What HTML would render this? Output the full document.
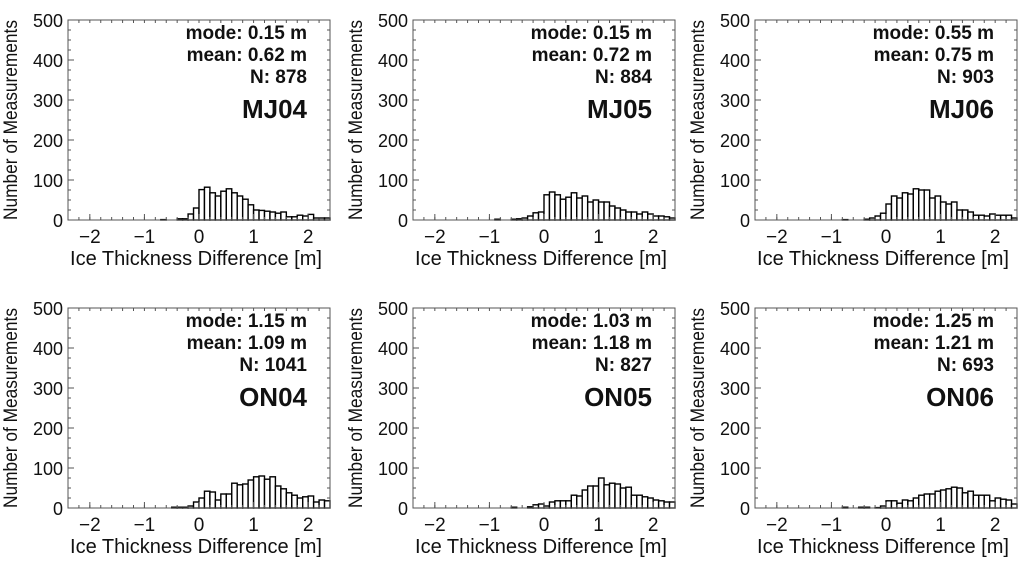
<!DOCTYPE html>
<html><head><meta charset="utf-8"><style>
html,body{margin:0;padding:0;background:#fff;}
svg{display:block;font-family:"Liberation Sans",sans-serif;}
</style></head><body>
<svg id="chart" width="1024" height="565" viewBox="0 0 1024 565"></svg>
<script>
const binStarts = [-0.9,-0.8,-0.7,-0.6,-0.5,-0.4,-0.3,-0.2,-0.1,0.0,0.1,0.2,0.3,0.4,0.5,0.6,0.7,0.8,0.9,1.0,1.1,1.2,1.3,1.4,1.5,1.6,1.7,1.8,1.9,2.0,2.1,2.2,2.3];
const countsMJ04 = [0,0,1,0,0,3,3,15,30,76,82,68,60,72,78,68,60,52,38,25,24,22,20,17,20,8,8,12,10,14,5,5,5];
const countsMJ05 = [2,0,0,2,3,5,10,18,20,63,70,63,52,57,68,55,60,45,50,45,45,35,30,25,20,20,15,20,15,10,10,8,5];
const countsMJ06 = [0,1,0,0,0,2,5,10,17,40,60,55,68,65,78,75,75,55,60,45,40,45,25,25,20,12,12,10,15,12,12,12,5];
const countsON04 = [0,0,0,0,2,2,2,5,15,25,42,40,20,35,35,62,58,60,70,78,80,72,78,55,48,38,32,25,28,30,15,20,18];
const countsON05 = [0,0,0,2,0,0,3,8,10,5,15,18,18,18,32,30,45,55,55,75,58,62,60,50,52,32,32,28,25,20,18,15,15];
const countsON06 = [0,2,0,0,2,2,0,1,5,18,18,12,20,18,25,32,35,35,42,45,48,52,50,38,42,32,32,32,18,25,22,20,10];
const panelNames = ["MJ04","MJ05","MJ06","ON04","ON05","ON06"];
const modes = ["0.15","0.15","0.55","1.15","1.03","1.25"];
const means = ["0.62","0.72","0.75","1.09","1.18","1.21"];
const ns = ["878","884","903","1041","827","693"];
const xTicks = [-2,-1,0,1,2];
const yTicks = [0,100,200,300,400,500];

const allCounts=[countsMJ04,countsMJ05,countsMJ06,countsON04,countsON05,countsON06];
const NS="http://www.w3.org/2000/svg";
const svg=document.getElementById('chart');
function mk(t,a,p){const e=document.createElementNS(NS,t);for(const k in a)e.setAttribute(k,a[k]);(p||svg).appendChild(e);return e;}
const lefts=[68,413,755], tops=[20,308], W=262, H=200, xmin=-2.4, xmax=2.4;
for(let i=0;i<6;i++){
  const L=lefts[i%3], T=tops[Math.floor(i/3)];
  const g=mk('g',{});
  
  
  const sx=v=>L+(v-xmin)/(xmax-xmin)*W;
  const sy=v=>T+H-v/500*H;
  const bars=mk('g',{},g);
  
  
  allCounts[i].forEach((c,j)=>{
    if(c<=0)return;
    const x0=sx(binStarts[j]), x1=sx(binStarts[j]+0.1);
    const r=mk('rect',{x:x0,y:sy(c),width:x1-x0,height:sy(0)-sy(c),fill:'#fff',stroke:'#000','stroke-width':1.4},bars);
    
    
  });
  const fr=mk('rect',{x:L,y:T,width:W,height:H,fill:'none',stroke:'#555','stroke-width':1},g);
  
  
  for(let v=-2.4;v<=2.41;v+=0.2){mk('line',{x1:sx(v),x2:sx(v),y1:T+H,y2:T+H-3,stroke:'#555'},g);mk('line',{x1:sx(v),x2:sx(v),y1:T,y2:T+3,stroke:'#555'},g);}
  for(let v=0;v<=500;v+=25){mk('line',{x1:L,x2:L+3,y1:sy(v),y2:sy(v),stroke:'#555'},g);mk('line',{x1:L+W,x2:L+W-3,y1:sy(v),y2:sy(v),stroke:'#555'},g);}
  xTicks.forEach(v=>{
    mk('line',{x1:sx(v),x2:sx(v),y1:T+H,y2:T+H-6,stroke:'#555'},g);
    const t=mk('text',{x:sx(v),y:T+H+23,'text-anchor':'middle','font-size':19,fill:'#111'},g);
    t.textContent=(v<0?'\u2212'+(-v):v);
    
    
  });
  yTicks.forEach(v=>{
    mk('line',{x1:L,x2:L+6,y1:sy(v),y2:sy(v),stroke:'#555'},g);
    const t=mk('text',{x:L-5,y:sy(v)+7,'text-anchor':'end','font-size':18,fill:'#111'},g);
    t.textContent=v;
    
    
  });
  const xl=mk('text',{x:L+W/2-3,y:T+H+45,'text-anchor':'middle','font-size':20,fill:'#111',textLength:252,lengthAdjust:'spacingAndGlyphs'},g);
  xl.textContent='Ice Thickness Difference [m]';
  
  
  const yl=mk('text',{x:0,y:0,'text-anchor':'middle','font-size':19,fill:'#111',textLength:200,lengthAdjust:'spacingAndGlyphs',transform:`translate(${L-51},${T+H/2}) rotate(-90)`},g);
  yl.textContent='Number of Measurements';
  
  
  const lines=['mode: '+modes[i]+' m','mean: '+means[i]+' m','N: '+ns[i]];
  lines.forEach((s,k)=>{
    const t=mk('text',{x:L+W-23,y:T+19+k*22,'text-anchor':'end','font-size':19,'font-weight':'bold',fill:'#111'},g);
    t.textContent=s;
    
    
  });
  const pn=mk('text',{x:L+W-23,y:T+98,'text-anchor':'end','font-size':26,'font-weight':'bold',fill:'#111'},g);
  pn.textContent=panelNames[i];
  
  
}
</script>
</body></html>
